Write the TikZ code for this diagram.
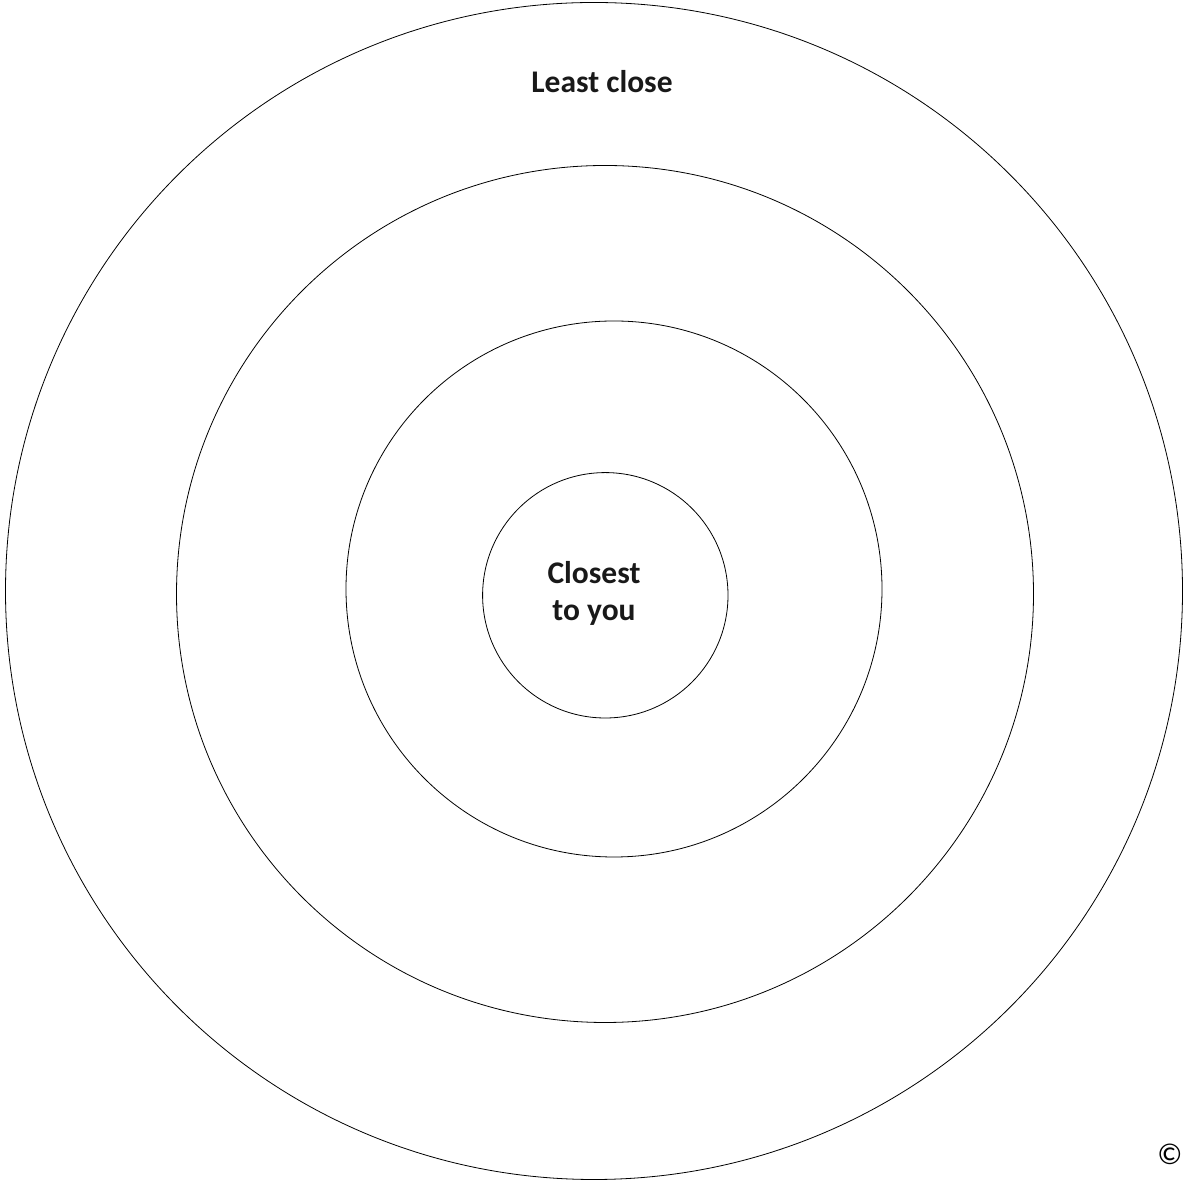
\documentclass[tikz,border=0pt]{standalone}
\usepackage{fontspec}
\setmainfont{Carlito}
\usepackage{tikz}
\usetikzlibrary{positioning}

\begin{document}
\begin{tikzpicture}[
x=1pt, y=1pt,
ring/.style={draw, circle, inner sep=0pt, line width=0.8pt},
lbl/.style={font=\fontsize{31.5}{37}\selectfont\bfseries, align=center, text=black!90},
every node/.style={font=\small}
]
\useasboundingbox (0,0) rectangle (1184,1183);
\node[ring, minimum size=1177pt] (outer) at (594,592) {};
\node[ring, minimum size=857pt] (second) at (605,589) {};
\node[ring, minimum size=536pt] (third) at (614,594) {};
\node[ring, minimum size=245.4pt] (inner) at (605.3,587.7) {};
\node[lbl] (closest) at (594,590) {Closest\\to you};
\node[lbl, anchor=base] (least) at (602,1090) {Least close};
\node[font=\fontsize{30}{32}\selectfont] (copy) at (1170,29) {©};
\end{tikzpicture}
\end{document}
